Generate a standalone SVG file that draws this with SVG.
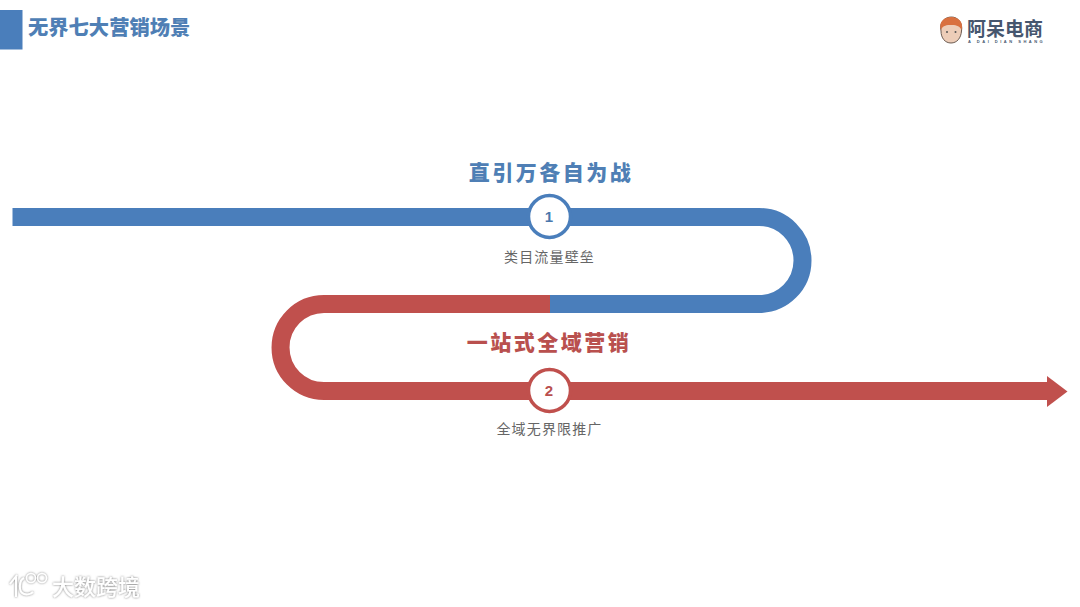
<svg xmlns="http://www.w3.org/2000/svg" width="1080" height="607" viewBox="0 0 1080 607">
<defs>
<style>
.cjk{font-family:"Noto Sans CJK SC","Liberation Sans",sans-serif}
.head{font-size:21px;font-weight:900;text-anchor:middle;letter-spacing:2.500px}
.sub{font-size:14px;fill:#666;text-anchor:middle;letter-spacing:1.150px}
.num{font-family:"Liberation Sans",Arial,sans-serif;font-size:15px;font-weight:700;text-anchor:middle}
.band{fill:none;stroke-width:18}
.circle{fill:#fff;stroke-width:3.500}
</style>
<filter id="soft" x="-20%" y="-20%" width="140%" height="140%"><feDropShadow dx="0" dy="0" stdDeviation="1.300" flood-color="#777" flood-opacity="1"/></filter>
</defs>
<rect width="1080" height="607" fill="#fff"/>
<g id="title">
<rect x="0" y="10" width="22.500" height="39.500" fill="#4a7ebb"/>
<text class="cjk" x="28" y="35" font-size="20.300" font-weight="900" fill="#4f7fb5">无界七大营销场景</text>
</g>
<g id="logo">
<path d="M941 31 C939 22 945 17 951.500 17 C958 17 963 23 961.500 31 C961 38 957 43 951 43 C945 43 941 38 941 31 Z" fill="#edcdb8" stroke="#6b5a50" stroke-width="1"/>
<path d="M941 30 C938 21 945 17 951.500 17 C958 17 964 22 961.500 30 C959 25 955 25 951 25 C947 25 943 25 941 30 Z" fill="#d9703f"/>
<circle cx="947" cy="32" r="1" fill="#555"/><circle cx="955.500" cy="32" r="1" fill="#555"/>
<text class="cjk" x="967" y="36" font-size="19" font-weight="700" fill="#46566e">阿呆电商</text>
<text x="968" y="42.500" font-family="Liberation Sans,Arial,sans-serif" font-size="4" font-weight="700" letter-spacing="2.500" fill="#46566e">A DAI DIAN SHANG</text>
</g>
<g id="connectors">
<path class="band" stroke="#4a7ebb" d="M12.500 217H759A43.500 43.500 0 0 1 759 304H550"/>
<path class="band" stroke="#c0504d" d="M550 304H324A43.500 43.500 0 0 0 324 391H1048"/>
<polygon points="1047,376 1067.500,391.500 1047,407" fill="#c0504d"/>
</g>
<g id="node-1">
<text class="cjk head" x="551" y="180" fill="#4f7fb5">直引万各自为战</text>
<circle class="circle" cx="549.500" cy="216.500" r="21" stroke="#4a7ebb"/>
<text class="num" x="549" y="222" fill="#4a78ad">1</text>
<text class="cjk sub" x="549.500" y="262">类目流量壁垒</text>
</g>
<g id="node-2">
<text class="cjk head" x="549" y="350" fill="#b9504e">一站式全域营销</text>
<circle class="circle" cx="549.500" cy="390.500" r="21" stroke="#c0504d"/>
<text class="num" x="549" y="396" fill="#b9504e">2</text>
<text class="cjk sub" x="549.500" y="434">全域无界限推广</text>
</g>
<g id="watermark" filter="url(#soft)">
<path d="M10 584 L17 575 M16 577 V597 M24 578 C19 580 18 592 24 594 C27 595 31 594 33 592" fill="none" stroke="#fff" stroke-width="2"/>
<circle cx="31" cy="578" r="4.500" fill="none" stroke="#fff" stroke-width="1.500"/>
<circle cx="42" cy="578" r="4.500" fill="none" stroke="#fff" stroke-width="1.500"/>
<text class="cjk" x="52" y="595" font-size="22" font-weight="500" fill="#fff">大数跨境</text>
</g>
</svg>
